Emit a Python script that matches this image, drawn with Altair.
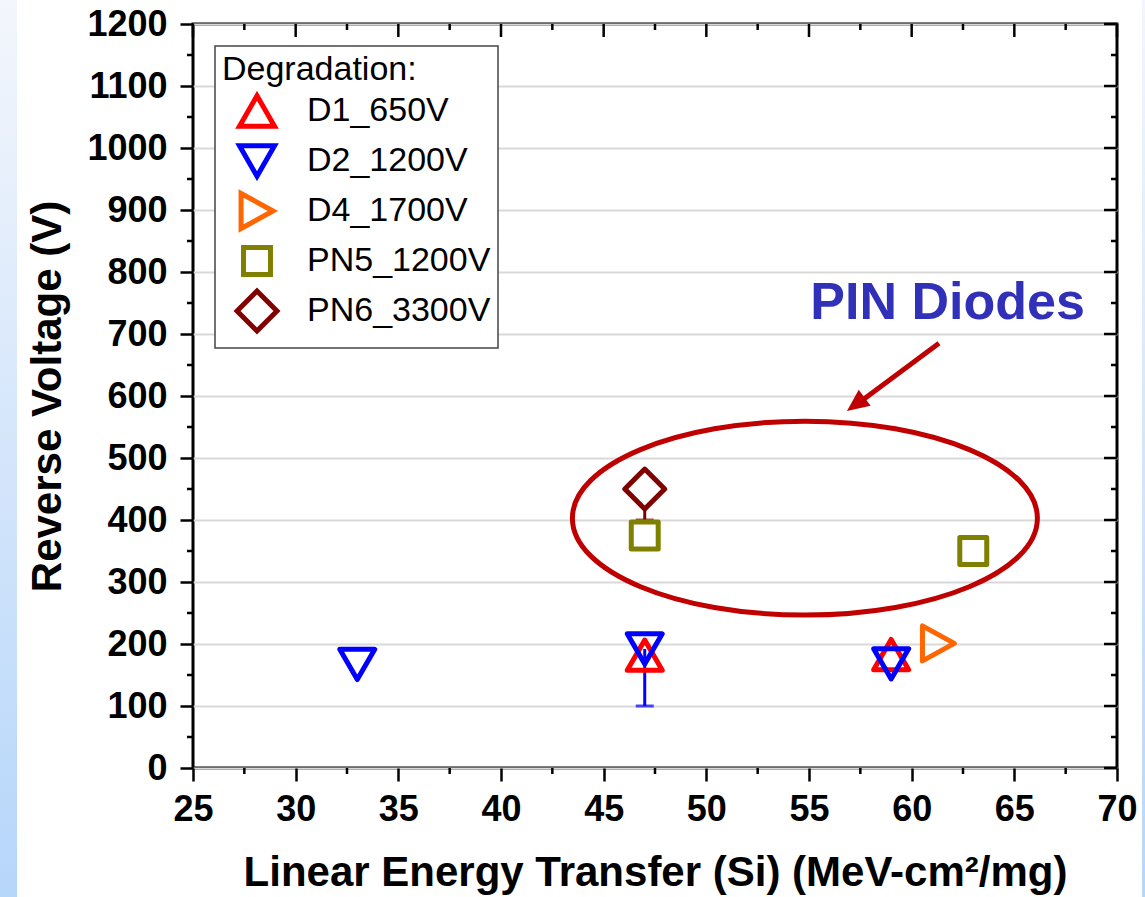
import altair as alt
import pandas as pd

FONT = "Liberation Sans"

# ---- series definitions -------------------------------------------------
series_names = ["D1_650V", "D2_1200V", "D4_1700V", "PN5_1200V", "PN6_3300V"]
series_colors = ["#ff0000", "#0000ff", "#ff6600", "#808000", "#800000"]
# open marker outlines in a unit box (scaled by the mark size)
series_shapes = [
    "M0,-0.866L1,0.866L-1,0.866Z",                    # triangle up
    "M0,0.866L1,-0.866L-1,-0.866Z",                   # triangle down
    "M0.91,0L-0.91,-1L-0.91,1Z",                      # triangle right
    "M-0.77,-0.77L0.77,-0.77L0.77,0.77L-0.77,0.77Z",  # square
    "M-1.14,0L0,-1.14L1.14,0L0,1.14Z",                # diamond
]

# ---- measured points ----------------------------------------------------
point_series = ["D1_650V", "D1_650V", "D2_1200V", "D2_1200V", "D2_1200V",
                "D4_1700V", "PN5_1200V", "PN5_1200V", "PN6_3300V"]
point_let = [47, 59, 33, 47, 59, 61.3, 47, 63, 47]
point_voltage = [182, 183, 167, 192, 168, 201, 375, 350, 450]

# lower error bars
err_series = ["D2_1200V", "PN6_3300V"]
err_let = [47, 47]
err_low = [100, 400]
err_high = [192, 450]

# ---- axis ticks ---------------------------------------------------------
x_major = [25, 30, 35, 40, 45, 50, 55, 60, 65, 70]
x_minor = [27.5, 32.5, 37.5, 42.5, 47.5, 52.5, 57.5, 62.5, 67.5]
y_major = [0, 100, 200, 300, 400, 500, 600, 700, 800, 900, 1000, 1100, 1200]
y_minor = [50, 150, 250, 350, 450, 550, 650, 750, 850, 950, 1050, 1150]

# ---- annotation ---------------------------------------------------------
ellipse_let, ellipse_voltage = [54.8], [403]
arrow_let, arrow_voltage = [61.33], [685]
arrow_let2, arrow_voltage2 = [57.3], [586]
arrow_tip_let, arrow_tip_voltage = [56.85], [576]
label_let, label_voltage, label_text = [61.75], [724], ["PIN Diodes"]

W, H = 924, 744
xs = alt.Scale(domain=[25, 70], nice=False, zero=False)
ys = alt.Scale(domain=[0, 1200], nice=False, zero=False)

x_axis = alt.Axis(values=x_major, grid=False, labelPadding=11, format="d",
                  title="Linear Energy Transfer (Si) (MeV-cm²/mg)",
                  titleX=W / 2, titleY=117, titleAlign="center",
                  titleBaseline="alphabetic")
y_axis = alt.Axis(values=y_major, grid=True, labelPadding=13, format="d",
                  title="Reverse Voltage (V)", titleAngle=270,
                  titleX=-133, titleY=H / 2, titleAlign="center",
                  titleBaseline="alphabetic")


def X(field):
    return alt.X(field, scale=xs, axis=x_axis)


def Y(field):
    return alt.Y(field, scale=ys, axis=y_axis)


points = pd.DataFrame({"series": point_series, "let": point_let, "voltage": point_voltage})
errors = pd.DataFrame({"series": err_series, "let": err_let, "low": err_low, "high": err_high})

color_scale = alt.Scale(domain=series_names, range=series_colors)
shape_scale = alt.Scale(domain=series_names, range=series_shapes)
legend = alt.Legend(title="Degradation:", orient="none", legendX=22, legendY=22, gridAlign="all")

# light blue side bands
band_fill = alt.Gradient(
    gradient="linear",
    stops=[alt.GradientStop(color="#f3f6fc", offset=0),
           alt.GradientStop(color="#b6d6fa", offset=1)],
    x1=0, x2=0, y1=0, y2=1,
)
band_left = alt.Chart(alt.Data(values=[{}])).mark_rect(fill=band_fill).encode(
    x=alt.value(-193), x2=alt.value(-176), y=alt.value(-24), y2=alt.value(873))
band_right = alt.Chart(alt.Data(values=[{}])).mark_rect(fill=band_fill).encode(
    x=alt.value(949), x2=alt.value(952), y=alt.value(-24), y2=alt.value(873))

# error bars, one layer per series so the legend stays with the markers
err_layers = []
for name in err_series:
    col = series_colors[series_names.index(name)]
    base = alt.Chart(errors).transform_filter(alt.datum.series == name)
    err_layers.append(base.mark_rule(strokeWidth=3, color=col).encode(
        x=X("let:Q"), y=Y("low:Q"), y2="high:Q"))
    err_layers.append(base.mark_tick(orient="horizontal", size=18, thickness=3, color=col).encode(
        x=X("let:Q"), y=Y("low:Q")))

marks = alt.Chart(points).mark_point(
    filled=False, size=1225, strokeWidth=5, strokeJoin="round", opacity=1
).encode(
    x=X("let:Q"),
    y=Y("voltage:Q"),
    color=alt.Color("series:N", scale=color_scale, legend=legend),
    shape=alt.Shape("series:N", scale=shape_scale, legend=legend),
    fill=alt.condition(alt.datum.series == "PN6_3300V", alt.value("white"), alt.value("transparent")),
)

ellipse_path = ("M1,0C1,0.2303 0.5523,0.417 0,0.417C-0.5523,0.417 -1,0.2303 -1,0"
                "C-1,-0.2303 -0.5523,-0.417 0,-0.417C0.5523,-0.417 1,-0.2303 1,0Z")
ellipse = alt.Chart(pd.DataFrame({"let": ellipse_let, "voltage": ellipse_voltage})).mark_point(
    shape=ellipse_path, size=465 ** 2, filled=False, strokeWidth=5, color="#c00000", opacity=1
).encode(x=X("let:Q"), y=Y("voltage:Q"))

arrow_line = alt.Chart(pd.DataFrame({"let": arrow_let, "voltage": arrow_voltage,
                                     "let2": arrow_let2, "voltage2": arrow_voltage2})).mark_rule(
    strokeWidth=5, color="#c00000"
).encode(x=X("let:Q"), y=Y("voltage:Q"), x2="let2:Q", y2="voltage2:Q")

arrow_head = alt.Chart(pd.DataFrame({"let": arrow_tip_let, "voltage": arrow_tip_voltage})).mark_point(
    shape="M0,0L-1,2.2L1,2.2Z", size=400, filled=True, color="#c00000", opacity=1, angle=233.5
).encode(x=X("let:Q"), y=Y("voltage:Q"))

label = alt.Chart(pd.DataFrame({"let": label_let, "voltage": label_voltage, "t": label_text})).mark_text(
    font=FONT, fontSize=52, fontWeight="bold", color="#3030b8", align="center", baseline="alphabetic"
).encode(x=X("let:Q"), y=Y("voltage:Q"), text="t:N")


def y_ticks(values, x0, x1):
    return alt.Chart(pd.DataFrame({"voltage": values})).mark_rule(color="black", strokeWidth=2.5).encode(
        y=Y("voltage:Q"), x=alt.value(x0), x2=alt.value(x1))


def x_ticks(values, y0, y1):
    return alt.Chart(pd.DataFrame({"let": values})).mark_rule(color="black", strokeWidth=2.5).encode(
        x=X("let:Q"), y=alt.value(y0), y2=alt.value(y1))


ticks = [
    y_ticks(y_minor, -6, 0),
    y_ticks(y_major, W - 13, W),
    y_ticks(y_minor, W - 6, W),
    x_ticks(x_minor, H, H + 6),
    x_ticks(x_major, 0, 13),
    x_ticks(x_minor, 0, 6),
]

chart = alt.layer(
    band_left, band_right, *err_layers, marks, ellipse, arrow_line, arrow_head, label, *ticks
).properties(
    width=W, height=H,
    autosize=alt.AutoSizeParams(type="none"),
    padding={"left": 193, "top": 24, "right": 28, "bottom": 129},
    background="white",
).configure_view(
    stroke="black", strokeWidth=3
).configure_axis(
    labelFont=FONT, labelFontSize=36, labelFontWeight="bold", labelColor="black",
    titleFont=FONT, titleFontSize=42, titleFontWeight="bold", titleColor="black",
    tickColor="black", tickWidth=2.5, tickSize=13, domain=False,
    gridColor="#d9d9d9", gridWidth=2, labelFlush=False, labelOverlap=False,
).configure_legend(
    titleFont=FONT, titleFontSize=34, titleFontWeight="normal", titleColor="black",
    labelFont=FONT, labelFontSize=34, labelColor="black", labelLimit=400, titleLimit=400,
    symbolSize=1225, symbolStrokeWidth=5, symbolOffset=15, labelOffset=30,
    rowPadding=-22, padding=7, titlePadding=4,
    strokeColor="#444444", strokeWidth=1.5, fillColor="white", cornerRadius=0,
)

chart.save("out.html", embed_options={"renderer": "svg", "actions": False})
